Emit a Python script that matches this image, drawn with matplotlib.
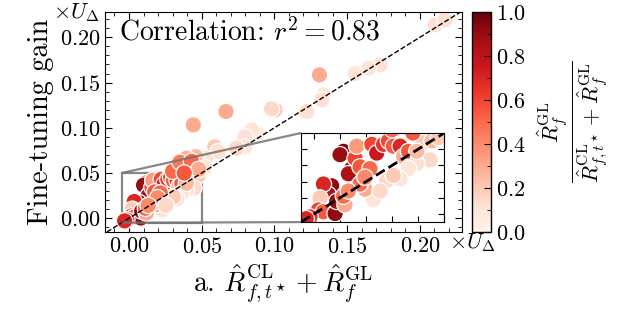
import numpy as np
import matplotlib
matplotlib.use("Agg")
import matplotlib.pyplot as plt
from matplotlib.ticker import MultipleLocator
from mpl_toolkits.axes_grid1.inset_locator import mark_inset

plt.rcParams['font.family'] = 'serif'
plt.rcParams['font.serif'] = ['cmr10']
plt.rcParams['mathtext.fontset'] = 'cm'
plt.rcParams['axes.formatter.use_mathtext'] = True
plt.rcParams['axes.unicode_minus'] = False
plt.rcParams['font.size'] = 16

# x: R_CL + R_GL, y: fine-tuning gain (units of U_Delta), c: GL share
x_sum = [0.0113, 0.0100, 0.0145, 0.0132, 0.0158, 0.0164, 0.0222, 0.0241, 0.0267, 0.0286,
         0.0305, 0.0331, 0.0344, 0.0363, 0.0420, 0.0453, 0.0478, 0.0446, 0.0395, 0.0363,
         0.0331, 0.0279, 0.0305, 0.0228, 0.0196, 0.0177, 0.0177, 0.0215, 0.0196, 0.0068,
         0.0055, 0.0036, 0.0023, 0.0017, 0.0036, 0.0081, 0.0087, 0.0119, 0.0113, -0.0015,
         -0.0030, 0.0132, 0.0254, 0.0395,
         0.2105, 0.2174, 0.1727, 0.1647, 0.1555, 0.1310, 0.1337, 0.1325, 0.1222, 0.1004,
         0.0980, 0.0667, 0.0442, 0.0878, 0.0844, 0.0798, 0.0798, 0.0740, 0.0590, 0.0614,
         0.0528, 0.0459, 0.0397, 0.0408, 0.0477, 0.0520, 0.0350, 0.0300,
         0.0350, 0.0430, 0.0480, 0.0380]
gain = [0.0387, 0.0366, 0.0280, 0.0248, 0.0344, 0.0419, 0.0430, 0.0376, 0.0430, 0.0451,
        0.0419, 0.0419, 0.0355, 0.0387, 0.0440, 0.0451, 0.0472, 0.0334, 0.0312, 0.0280,
        0.0216, 0.0206, 0.0238, 0.0089, 0.0153, 0.0185, 0.0291, 0.0280, 0.0227, 0.0174,
        0.0120, 0.0185, 0.0099, 0.0025, 0.0014, 0.0003, 0.0078, 0.0057, 0.0110, -0.0018,
        -0.0029, 0.0142, 0.0142, 0.0387,
        0.2138, 0.2193, 0.1695, 0.1660, 0.1600, 0.1585, 0.1364, 0.1310, 0.1180, 0.1198,
        0.1210, 0.1180, 0.1032, 0.0940, 0.0977, 0.0900, 0.0790, 0.0774, 0.0790, 0.0737,
        0.0663, 0.0681, 0.0663, 0.0590, 0.0590, 0.0560, 0.0550, 0.0520,
        0.0620, 0.0630, 0.0540, 0.0500]
gl_share = [0.95, 0.90, 0.92, 0.85, 0.60, 0.35, 0.60, 0.75, 0.65, 0.60,
            0.55, 0.70, 0.30, 0.55, 0.20, 0.25, 0.20, 0.15, 0.12, 0.10,
            0.10, 0.15, 0.20, 0.10, 0.30, 0.50, 0.55, 0.50, 0.40, 0.92,
            0.85, 0.70, 0.20, 0.60, 0.55, 0.92, 0.90, 0.30, 0.50, 0.65,
            0.70, 0.40, 0.15, 0.25,
            0.12, 0.12, 0.12, 0.10, 0.10, 0.30, 0.10, 0.12, 0.12, 0.20,
            0.15, 0.30, 0.30, 0.10, 0.10, 0.12, 0.10, 0.15, 0.20, 0.12,
            0.12, 0.25, 0.30, 0.40, 0.35, 0.10, 0.15, 0.50,
            0.45, 0.50, 0.30, 0.55]
r2_text = r'Correlation: $r^2 = 0.83$'

fig = plt.figure(figsize=(6.23, 3.17), dpi=100)
ax = fig.add_axes([105/623, 85/317, 357/623, 220/317])
cax = fig.add_axes([472/623, 85/317, 19/623, 220/317])

sc = ax.scatter(x_sum, gain, c=gl_share, cmap='Reds', vmin=0, vmax=1,
                s=140, edgecolors='white', linewidths=0.9, zorder=2)
ax.axline((0, 0), slope=1, color='black', ls='--', lw=1, zorder=3)
ax.set_xlim(-0.0165, 0.229)
ax.set_ylim(-0.0152, 0.228)
ax.xaxis.set_major_locator(MultipleLocator(0.05))
ax.yaxis.set_major_locator(MultipleLocator(0.05))
ax.xaxis.set_minor_locator(MultipleLocator(0.01))
ax.yaxis.set_minor_locator(MultipleLocator(0.01))
ax.tick_params(which='both', direction='in', top=True, right=True)
ax.tick_params(which='major', length=5)
ax.tick_params(which='minor', length=3)
ax.set_ylabel('Fine-tuning gain', fontsize=20.5, labelpad=4)
ax.set_xlabel(r'a. $\hat{R}^{\mathrm{CL}}_{f,t^\star} + \hat{R}^{\mathrm{GL}}_{f}$',
              fontsize=20, labelpad=4)
ax.text(0.04, 0.975, r2_text, transform=ax.transAxes, ha='left', va='top', fontsize=20)

# zoomed inset of the low-value cluster
axins = ax.inset_axes([0.549, 0.045, 0.401, 0.405])
axins.scatter(x_sum, gain, c=gl_share, cmap='Reds', vmin=0, vmax=1,
              s=140, edgecolors='white', linewidths=0.9, zorder=2)
axins.axline((0, 0), slope=1, color='black', ls='--', lw=2, zorder=3)
axins.set_xlim(-0.005, 0.05)
axins.set_ylim(-0.005, 0.05)
axins.xaxis.set_major_locator(MultipleLocator(0.01))
axins.yaxis.set_major_locator(MultipleLocator(0.01))
axins.tick_params(direction='in', top=True, right=True, length=4,
                  labelbottom=False, labelleft=False)
mark_inset(ax, axins, loc1=2, loc2=3, fc='none', ec='0.45', lw=1.6, alpha=0.85)

cb = fig.colorbar(sc, cax=cax)
cb.set_ticks([0.0, 0.2, 0.4, 0.6, 0.8, 1.0])
cb.ax.yaxis.set_minor_locator(MultipleLocator(0.1))
cb.ax.tick_params(which='both', direction='in')
cb.ax.tick_params(which='major', length=5)
cb.ax.tick_params(which='minor', length=3)
cb.outline.set_linewidth(1)

fig.text(573/623, 1 - 122/317,
         r'$\frac{\hat{R}^{\mathrm{GL}}_f}{\hat{R}^{\mathrm{CL}}_{f,t^\star}+\hat{R}^{\mathrm{GL}}_f}$',
         rotation=90, ha='center', va='center', fontsize=23)
fig.text(53/623, 1 - 13/317, r'$\times U_\Delta$', ha='left', va='center', fontsize=16)
fig.text(449/623, 1 - 243/317, r'$\times U_\Delta$', ha='left', va='center', fontsize=16)

fig.savefig('out.png', dpi=100)
